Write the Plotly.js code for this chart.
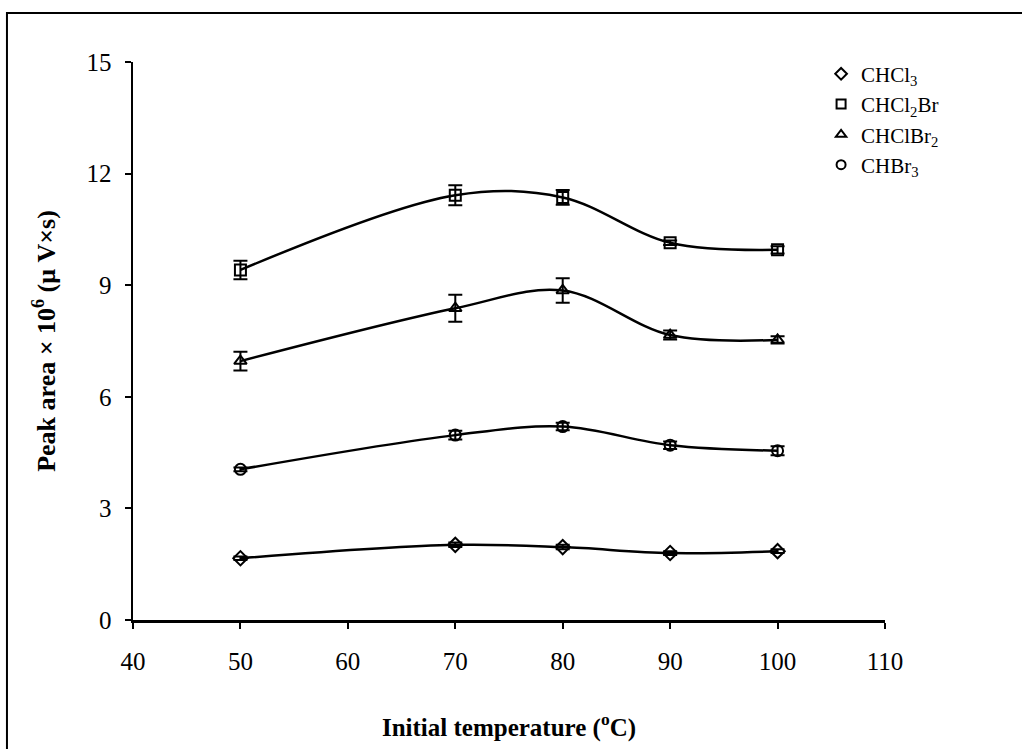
<!DOCTYPE html>
<html>
<head>
<meta charset="utf-8">
<script src="https://cdn.plot.ly/plotly-3.0.1.min.js"></script>
<style>
html,body{margin:0;padding:0;background:#fff;}
#chart{width:1022px;height:749px;}
</style>
</head>
<body>
<div id="chart"></div>
<script>
var temperature = [50, 70, 80, 90, 100];

var chcl3 = [1.66, 2.02, 1.96, 1.80, 1.85];
var chcl3Err = [0.05, 0.06, 0.06, 0.05, 0.05];

var chcl2br = [9.41, 11.42, 11.36, 10.14, 9.95];
var chcl2brErr = [0.25, 0.27, 0.2, 0.06, 0.1];

var chclbr2 = [6.96, 8.38, 8.86, 7.66, 7.53];
var chclbr2Err = [0.25, 0.36, 0.33, 0.12, 0.1];

var chbr3 = [4.05, 4.97, 5.2, 4.70, 4.55];
var chbr3Err = [0.05, 0.12, 0.1, 0.1, 0.12];

var seriesNames = ['CHCl<sub>3</sub>', 'CHCl<sub>2</sub>Br', 'CHClBr<sub>2</sub>', 'CHBr<sub>3</sub>'];
var seriesValues = [chcl3, chcl2br, chclbr2, chbr3];
var seriesErrors = [chcl3Err, chcl2brErr, chclbr2Err, chbr3Err];
var seriesSymbols = ['diamond-open', 'square-open', 'triangle-up-open', 'circle-open'];

var traces = [];
for (var i = 0; i < seriesValues.length; i++) {
  traces.push({
    x: temperature,
    y: seriesValues[i],
    type: 'scatter',
    mode: 'lines+markers',
    showlegend: false,
    line: {color: '#000', width: 2.5, shape: 'spline', smoothing: 1},
    marker: {symbol: seriesSymbols[i], size: 11, color: '#000', line: {width: 2, color: '#000'}},
    error_y: {type: 'data', array: seriesErrors[i], visible: true, color: '#000', thickness: 2, width: 7},
    cliponaxis: false
  });
}
for (var j = 0; j < seriesNames.length; j++) {
  traces.push({
    x: [null],
    y: [null],
    type: 'scatter',
    mode: 'markers',
    name: seriesNames[j],
    marker: {symbol: seriesSymbols[j], size: 9, color: '#000', line: {width: 2, color: '#000'}}
  });
}

var layout = {
  width: 1022,
  height: 749,
  paper_bgcolor: '#fff',
  plot_bgcolor: '#fff',
  margin: {l: 133, r: 137, t: 62, b: 129},
  font: {family: '"Liberation Serif", "Times New Roman", serif', color: '#000', size: 25},
  xaxis: {
    range: [40, 110],
    tickvals: [40, 50, 60, 70, 80, 90, 100, 110],
    showgrid: false,
    zeroline: false,
    showline: true,
    linecolor: '#000',
    linewidth: 2.5,
    ticks: 'outside',
    ticklen: 6,
    tickwidth: 2,
    tickcolor: '#000',
    tickfont: {size: 25},
    ticklabelstandoff: 11,
    title: {text: '<b>Initial temperature (<sup>o</sup>C)</b>', font: {size: 25}, standoff: 45}
  },
  yaxis: {
    range: [0, 15],
    tickvals: [0, 3, 6, 9, 12, 15],
    showgrid: false,
    zeroline: false,
    showline: true,
    linecolor: '#000',
    linewidth: 2.5,
    ticks: 'outside',
    ticklen: 6,
    tickwidth: 2,
    tickcolor: '#000',
    tickfont: {size: 25},
    ticklabelstandoff: 8,
    title: {text: '<b>Peak area × 10<sup>6</sup> (μ V×s)</b>', font: {size: 26}, standoff: 24}
  },
  legend: {
    x: 0.915,
    y: 1.015,
    xanchor: 'left',
    yanchor: 'top',
    bgcolor: 'rgba(0,0,0,0)',
    font: {size: 21, family: '"Liberation Serif", "Times New Roman", serif'},
    tracegroupgap: 0,
    itemwidth: 30
  },
  shapes: [{
    type: 'rect', xref: 'paper', yref: 'paper',
    x0: -0.1676, x1: 1.185, y0: -0.235, y1: 1.0878,
    line: {color: '#000', width: 2}
  }],
  showlegend: true
};

Plotly.newPlot('chart', traces, layout, {displayModeBar: false, staticPlot: true});
</script>
</body>
</html>
